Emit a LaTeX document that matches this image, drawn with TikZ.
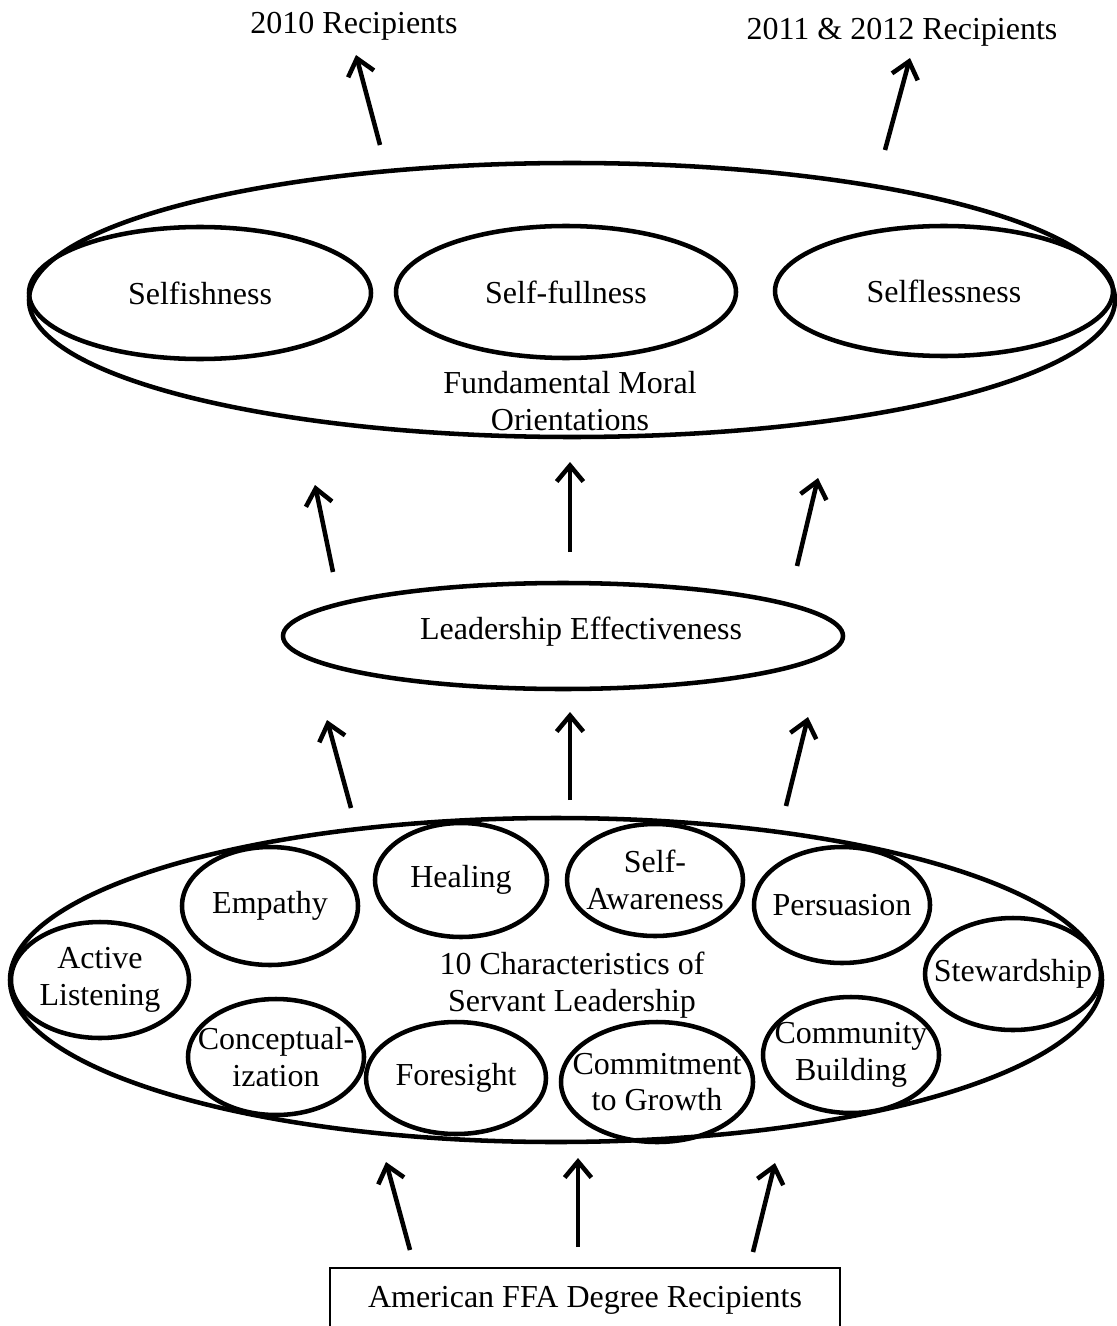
\documentclass[tikz,border=0pt]{standalone}
\usepackage{fontspec}
\setmainfont{Liberation Serif}
\usetikzlibrary{shapes.geometric}
\usetikzlibrary{arrows.meta}

\def\pxu{0.375pt}
\tikzset{
  oval/.style 2 args={ellipse, draw, line width=1.7pt, inner sep=-60pt, align=center,
    minimum width=2*#1*\pxu, minimum height=2*#2*\pxu},
  flow/.style={line width=1.7pt, -{Straight Barb[length=6pt,width=10pt]}},
  lbl/.style={align=center},
  degbox/.style={draw, line width=0.6pt, inner sep=0pt,
    minimum width=510*\pxu, minimum height=64*\pxu}
}

\begin{document}
\begin{tikzpicture}[x=\pxu, y=-\pxu, font=\fontsize{12}{13.8}\selectfont]
  \useasboundingbox (0,0) rectangle (1116,1326);

  \node (r2010) at (354,26) {2010 Recipients};
  \node (r2012) at (902,32) {2011 \& 2012 Recipients};

  % moral orientations
  \node[oval={543}{137}] (fmo) at (572,300) {};
  \node[oval={171}{66}] (selfish) at (200,293) {Selfishness};
  \node[oval={170}{66}] (selffull) at (566,292) {Self-fullness};
  \node[oval={169}{65}] (selfless) at (944,291) {Selflessness};
  \node[lbl] (fmotxt) at (570,401) {Fundamental Moral\\Orientations};

  \node[oval={280}{53}] (lead) at (563,636) {};
  \node (leadtxt) at (581,632) {Leadership Effectiveness};

  % servant leadership
  \node[oval={546}{162}] (servant) at (556,980) {};
  \node[oval={89}{58}] (listen) at (100,980) {Active\\Listening};
  \node[oval={88}{59}] (empathy) at (270,906) {Empathy};
  \node[oval={86}{57}] (healing) at (461,880) {Healing};
  \node[oval={88}{56}] (aware) at (655,880) {Self-\\Awareness};
  \node[oval={88}{58}] (persuade) at (842,905) {Persuasion};
  \node[oval={88}{56}] (steward) at (1013,974) {Stewardship};
  \node[oval={88}{58}] (concept) at (276,1057) {Conceptual-\\ization};
  \node[oval={90}{56}] (foresight) at (456,1078) {Foresight};
  \node[oval={96}{60}] (growth) at (657,1082) {Commitment\\to Growth};
  \node[oval={88}{58}] (community) at (851,1055) {Community\\Building};
  \node[lbl] (servtxt) at (572,985) {10 Characteristics of\\Servant Leadership};

  \node[degbox] (ffa) at (585,1300) {American FFA Degree Recipients};

  \foreach \n/\sx/\sy/\ex/\ey in {a/380/145/356/55, b/885/150/910/58,
      c/333/572/315/485, d/570/552/570/462, e/797/566/818/478,
      f/351/808/327/720, g/570/800/570/712, h/786/806/808/717,
      i/410/1250/386/1162, j/578/1247/578/1158, k/753/1252/775/1163}
  {
    \coordinate (s\n) at (\sx,\sy);
    \coordinate (t\n) at (\ex,\ey);
    \draw[flow] (s\n) -- (t\n);
  }
\end{tikzpicture}
\end{document}
